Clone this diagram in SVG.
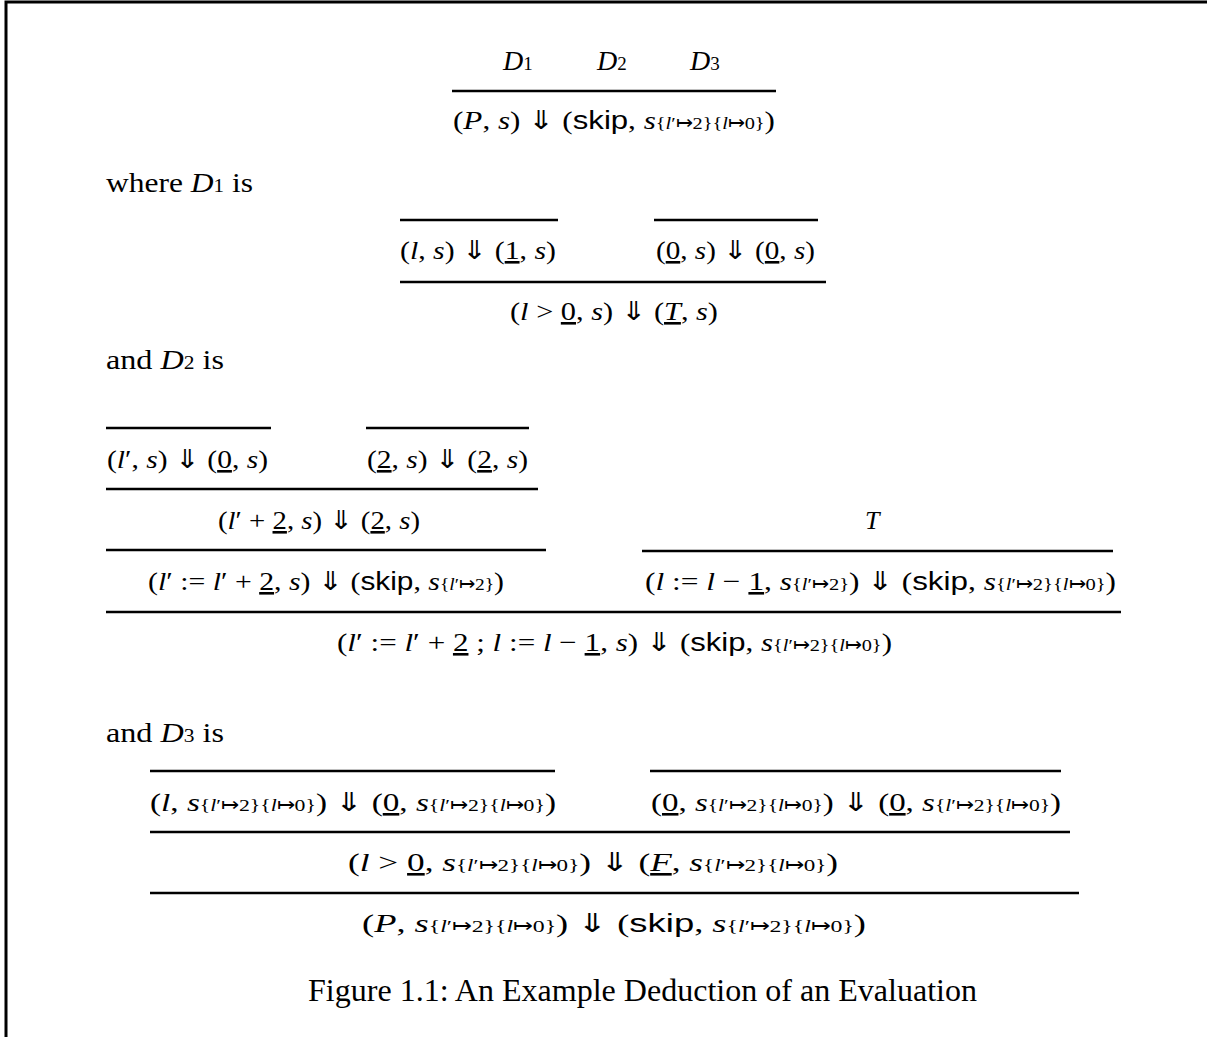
<svg xmlns="http://www.w3.org/2000/svg" width="1207" height="1037" viewBox="0 0 1207 1037">
<style>
.m{font-family:"Liberation Serif",serif;font-size:26px;fill:#000}
.i{font-style:italic}
.sf{font-family:"Liberation Sans",sans-serif}
.sm{font-size:17px}
.u{text-decoration:underline}
.t{font-family:"Liberation Serif",serif;font-size:27px;fill:#000}
.cap{font-family:"Liberation Serif",serif;font-size:31px;fill:#000}
.r{stroke:#000;stroke-width:2.5}
</style>
<rect width="1207" height="1037" fill="#fff"/>
<path d="M6 1037V2H1207" fill="none" stroke="#000" stroke-width="3"/>
<g id="rules" class="r">
<line x1="452" y1="91" x2="776" y2="91"/>
<line x1="400" y1="220" x2="558" y2="220"/>
<line x1="654" y1="220" x2="818" y2="220"/>
<line x1="400" y1="282" x2="826" y2="282"/>
<line x1="106" y1="428" x2="271" y2="428"/>
<line x1="366" y1="428" x2="529" y2="428"/>
<line x1="106" y1="489" x2="538" y2="489"/>
<line x1="106" y1="550" x2="546" y2="550"/>
<line x1="642" y1="551" x2="1113" y2="551"/>
<line x1="106" y1="612" x2="1121" y2="612"/>
<line x1="150" y1="771" x2="555" y2="771"/>
<line x1="650" y1="771" x2="1061" y2="771"/>
<line x1="150" y1="832" x2="1070" y2="832"/>
<line x1="150" y1="893" x2="1079" y2="893"/>
</g>
<g id="top-premises"><text class="m" y="70"><tspan x="503" class="i" font-size="28">D</tspan><tspan font-size="19">1</tspan><tspan x="597" class="i" font-size="28">D</tspan><tspan font-size="19">2</tspan><tspan x="690" class="i" font-size="28">D</tspan><tspan font-size="19">3</tspan></text></g>
<g id="top-conclusion"><text class="m" x="453" y="129" textLength="322" lengthAdjust="spacingAndGlyphs">(<tspan class="i">P</tspan>, <tspan class="i">s</tspan>) ⇓ (<tspan class="sf">skip</tspan>, <tspan class="i">s</tspan><tspan class="sm">{<tspan class="i">l</tspan>′↦2}{<tspan class="i">l</tspan>↦0}</tspan>)</text></g>
<g id="where-d1"><text class="t" x="106" y="192" textLength="147" lengthAdjust="spacingAndGlyphs">where <tspan class="i">D</tspan><tspan font-size="18">1</tspan> is</text></g>
<g id="d1-p1"><text class="m" x="400" y="259" textLength="156" lengthAdjust="spacingAndGlyphs">(<tspan class="i">l</tspan>, <tspan class="i">s</tspan>) ⇓ (<tspan class="u">1</tspan>, <tspan class="i">s</tspan>)</text></g>
<g id="d1-p2"><text class="m" x="656" y="259" textLength="159" lengthAdjust="spacingAndGlyphs">(<tspan class="u">0</tspan>, <tspan class="i">s</tspan>) ⇓ (<tspan class="u">0</tspan>, <tspan class="i">s</tspan>)</text></g>
<g id="d1-c"><text class="m" x="510" y="320" textLength="208" lengthAdjust="spacingAndGlyphs">(<tspan class="i">l</tspan> &gt; <tspan class="u">0</tspan>, <tspan class="i">s</tspan>) ⇓ (<tspan class="u i">T</tspan>, <tspan class="i">s</tspan>)</text></g>
<g id="and-d2"><text class="t" x="106" y="369" textLength="118" lengthAdjust="spacingAndGlyphs">and <tspan class="i">D</tspan><tspan font-size="18">2</tspan> is</text></g>
<g id="d2-p1"><text class="m" x="107" y="468" textLength="161" lengthAdjust="spacingAndGlyphs">(<tspan class="i">l</tspan>′, <tspan class="i">s</tspan>) ⇓ (<tspan class="u">0</tspan>, <tspan class="i">s</tspan>)</text></g>
<g id="d2-p2"><text class="m" x="367" y="468" textLength="161" lengthAdjust="spacingAndGlyphs">(<tspan class="u">2</tspan>, <tspan class="i">s</tspan>) ⇓ (<tspan class="u">2</tspan>, <tspan class="i">s</tspan>)</text></g>
<g id="d2-add"><text class="m" x="218" y="529" textLength="202" lengthAdjust="spacingAndGlyphs">(<tspan class="i">l</tspan>′ + <tspan class="u">2</tspan>, <tspan class="i">s</tspan>) ⇓ (<tspan class="u">2</tspan>, <tspan class="i">s</tspan>)</text></g>
<g id="d2-assign1"><text class="m" x="148" y="590" textLength="356" lengthAdjust="spacingAndGlyphs">(<tspan class="i">l</tspan>′ := <tspan class="i">l</tspan>′ + <tspan class="u">2</tspan>, <tspan class="i">s</tspan>) ⇓ (<tspan class="sf">skip</tspan>, <tspan class="i">s</tspan><tspan class="sm">{<tspan class="i">l</tspan>′↦2}</tspan>)</text></g>
<g id="d2-T"><text class="m i" x="865" y="529">T</text></g>
<g id="d2-assign2"><text class="m" x="645" y="590" textLength="471" lengthAdjust="spacingAndGlyphs">(<tspan class="i">l</tspan> := <tspan class="i">l</tspan> − <tspan class="u">1</tspan>, <tspan class="i">s</tspan><tspan class="sm">{<tspan class="i">l</tspan>′↦2}</tspan>) ⇓ (<tspan class="sf">skip</tspan>, <tspan class="i">s</tspan><tspan class="sm">{<tspan class="i">l</tspan>′↦2}{<tspan class="i">l</tspan>↦0}</tspan>)</text></g>
<g id="d2-c"><text class="m" x="337" y="651" textLength="555" lengthAdjust="spacingAndGlyphs">(<tspan class="i">l</tspan>′ := <tspan class="i">l</tspan>′ + <tspan class="u">2</tspan> ; <tspan class="i">l</tspan> := <tspan class="i">l</tspan> − <tspan class="u">1</tspan>, <tspan class="i">s</tspan>) ⇓ (<tspan class="sf">skip</tspan>, <tspan class="i">s</tspan><tspan class="sm">{<tspan class="i">l</tspan>′↦2}{<tspan class="i">l</tspan>↦0}</tspan>)</text></g>
<g id="and-d3"><text class="t" x="106" y="742" textLength="118" lengthAdjust="spacingAndGlyphs">and <tspan class="i">D</tspan><tspan font-size="18">3</tspan> is</text></g>
<g id="d3-p1"><text class="m" x="150" y="811" textLength="406" lengthAdjust="spacingAndGlyphs">(<tspan class="i">l</tspan>, <tspan class="i">s</tspan><tspan class="sm">{<tspan class="i">l</tspan>′↦2}{<tspan class="i">l</tspan>↦0}</tspan>) ⇓ (<tspan class="u">0</tspan>, <tspan class="i">s</tspan><tspan class="sm">{<tspan class="i">l</tspan>′↦2}{<tspan class="i">l</tspan>↦0}</tspan>)</text></g>
<g id="d3-p2"><text class="m" x="651" y="811" textLength="410" lengthAdjust="spacingAndGlyphs">(<tspan class="u">0</tspan>, <tspan class="i">s</tspan><tspan class="sm">{<tspan class="i">l</tspan>′↦2}{<tspan class="i">l</tspan>↦0}</tspan>) ⇓ (<tspan class="u">0</tspan>, <tspan class="i">s</tspan><tspan class="sm">{<tspan class="i">l</tspan>′↦2}{<tspan class="i">l</tspan>↦0}</tspan>)</text></g>
<g id="d3-gt"><text class="m" x="348" y="871" textLength="490" lengthAdjust="spacingAndGlyphs">(<tspan class="i">l</tspan> &gt; <tspan class="u">0</tspan>, <tspan class="i">s</tspan><tspan class="sm">{<tspan class="i">l</tspan>′↦2}{<tspan class="i">l</tspan>↦0}</tspan>) ⇓ (<tspan class="u i">F</tspan>, <tspan class="i">s</tspan><tspan class="sm">{<tspan class="i">l</tspan>′↦2}{<tspan class="i">l</tspan>↦0}</tspan>)</text></g>
<g id="d3-c"><text class="m" x="362" y="932" textLength="504" lengthAdjust="spacingAndGlyphs">(<tspan class="i">P</tspan>, <tspan class="i">s</tspan><tspan class="sm">{<tspan class="i">l</tspan>′↦2}{<tspan class="i">l</tspan>↦0}</tspan>) ⇓ (<tspan class="sf">skip</tspan>, <tspan class="i">s</tspan><tspan class="sm">{<tspan class="i">l</tspan>′↦2}{<tspan class="i">l</tspan>↦0}</tspan>)</text></g>
<g id="caption"><text class="cap" x="308" y="1001" textLength="669" lengthAdjust="spacingAndGlyphs">Figure 1.1: An Example Deduction of an Evaluation</text></g>
</svg>
